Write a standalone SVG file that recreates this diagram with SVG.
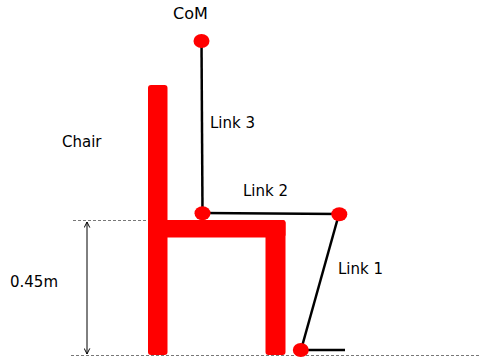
<svg xmlns="http://www.w3.org/2000/svg" width="481" height="360" viewBox="0 0 481 360">
  <style>
    .lbl { font-family: "DejaVu Sans", Verdana, sans-serif; font-size: 15px; fill: #000; }
    .chair { fill: #ff0000; }
    .link { stroke: #000; stroke-width: 2.5; fill: none; }
    .joint { fill: #ff0000; }
    .guide { stroke: #555; stroke-width: 0.8; stroke-dasharray: 3 2; fill: none; }
    .dim { stroke: #000; stroke-width: 1; fill: none; }
  </style>
  <defs>
    <marker id="chev" viewBox="0 0 10 10" refX="9" refY="5" markerWidth="7" markerHeight="7" orient="auto-start-reverse" markerUnits="userSpaceOnUse">
      <path d="M1,1 L9,5 L1,9" fill="none" stroke="#000" stroke-width="1.4"/>
    </marker>
  </defs>

  <!-- guide lines and seat-height dimension -->
  <g id="guides">
    <line class="guide" x1="73" y1="220.5" x2="148" y2="220.5"/>
    <line class="guide" x1="71" y1="355.5" x2="481" y2="355.5"/>
    <line class="dim" x1="87" y1="222" x2="87" y2="354" marker-start="url(#chev)" marker-end="url(#chev)"/>
  </g>

  <!-- chair -->
  <g id="chair">
    <rect class="chair" x="148" y="85" width="19.5" height="270" rx="3"/>
    <rect class="chair" x="148" y="220" width="137.5" height="17.5" rx="3"/>
    <rect class="chair" x="265.5" y="220" width="20" height="135" rx="3"/>
  </g>

  <!-- links -->
  <g id="connectors">
    <line class="link" x1="201.5" y1="41" x2="202.5" y2="213"/>
    <line class="link" x1="202.5" y1="213" x2="339" y2="214"/>
    <line class="link" x1="339" y1="214" x2="301" y2="350"/>
    <line class="link" x1="301" y1="350" x2="345" y2="350"/>
  </g>

  <!-- joints -->
  <g id="com"><ellipse class="joint" cx="201.5" cy="41" rx="8" ry="7"/></g>
  <g id="joint-hip"><ellipse class="joint" cx="202.5" cy="213.3" rx="8" ry="7"/></g>
  <g id="joint-knee"><ellipse class="joint" cx="339.3" cy="214.3" rx="8" ry="7"/></g>
  <g id="joint-ankle"><ellipse class="joint" cx="300.8" cy="350" rx="8" ry="7"/></g>

  <!-- labels -->
  <g id="labels">
    <text class="lbl" x="173" y="19" style="font-size:16px">CoM</text>
    <text class="lbl" x="210" y="128">Link 3</text>
    <text class="lbl" x="243" y="196">Link 2</text>
    <text class="lbl" x="338" y="274">Link 1</text>
    <text class="lbl" x="62" y="147">Chair</text>
    <text class="lbl" x="10" y="287">0.45m</text>
  </g>
</svg>
